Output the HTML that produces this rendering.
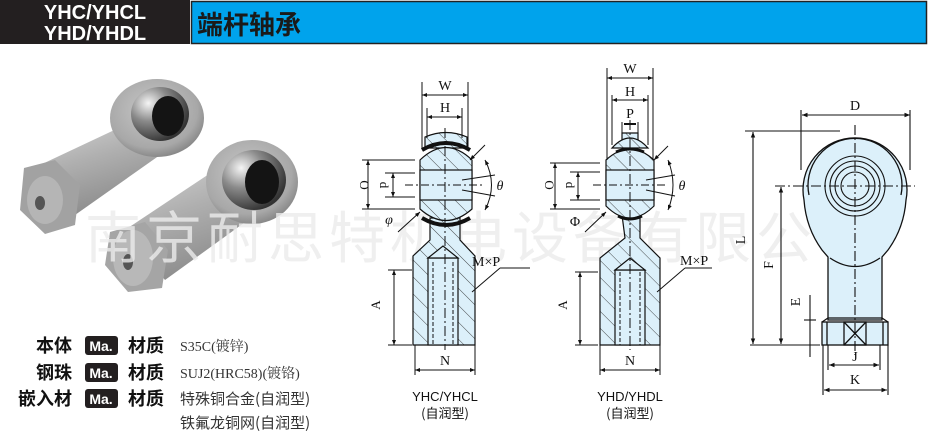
<!DOCTYPE html>
<html><head><meta charset="utf-8"><style>
html,body{margin:0;padding:0;background:#fff;}
svg{display:block;}
</style></head><body>
<svg width="929" height="440" viewBox="0 0 929 440" xmlns="http://www.w3.org/2000/svg" font-family="Liberation Serif, serif">
<defs>
<pattern id="h" width="12" height="12" patternUnits="userSpaceOnUse" patternTransform="rotate(-45)">
<rect width="12" height="12" fill="#dcf0fa"/><line x1="0" y1="0" x2="0" y2="12" stroke="#222" stroke-width="0.8"/></pattern>
<linearGradient id="met" x1="0" y1="0" x2="0.4" y2="1"><stop offset="0" stop-color="#d2d2d2"/><stop offset="0.45" stop-color="#b0b0b0"/><stop offset="1" stop-color="#8c8c8c"/></linearGradient>
<radialGradient id="eye" cx="45%" cy="40%" r="60%"><stop offset="0" stop-color="#c8c8c8"/><stop offset="0.8" stop-color="#a8a8a8"/><stop offset="1" stop-color="#8a8a8a"/></radialGradient>
<radialGradient id="ball" cx="30%" cy="30%" r="75%"><stop offset="0" stop-color="#f5f5f5"/><stop offset="0.45" stop-color="#8a8a8a"/><stop offset="1" stop-color="#333"/></radialGradient>
<marker id="a" viewBox="0 0 10 10" refX="10" refY="5" markerWidth="7" markerHeight="5" orient="auto-start-reverse"><path d="M0,1 L10,5 L0,9z" fill="#111"/></marker>
</defs>

<!-- header -->
<rect x="0" y="0" width="190" height="44" fill="#231f20"/>
<text x="95" y="19" fill="#fff" font-family="Liberation Sans, sans-serif" font-weight="bold" font-size="20" text-anchor="middle">YHC/YHCL</text>
<text x="95" y="40" fill="#fff" font-family="Liberation Sans, sans-serif" font-weight="bold" font-size="20" text-anchor="middle">YHD/YHDL</text>
<rect x="191.5" y="1.5" width="735" height="42" fill="#00a3ec" stroke="#222" stroke-width="1.5"/>
<text x="197" y="34" fill="#1a1a1a" font-family="Noto Sans CJK SC, sans-serif" font-weight="bold" font-size="26">端杆轴承</text>

<!-- photos -->
<g>
<path d="M40,165 L125,125 L160,155 L75,215 Z" fill="url(#met)"/>
<ellipse cx="157" cy="118" rx="47" ry="39" fill="url(#eye)"/>
<ellipse cx="160" cy="114" rx="29" ry="27" fill="url(#ball)"/>
<ellipse cx="168" cy="116" rx="16" ry="20" fill="#141414"/>
<path d="M24,168 L55,160 L80,185 L75,225 L45,234 L20,210 Z" fill="#a2a2a2"/>
<ellipse cx="45" cy="200" rx="18" ry="24" fill="#b5b5b5"/>
<ellipse cx="40" cy="203" rx="5" ry="7" fill="#555"/>
<path d="M125,230 L215,170 L255,215 L165,280 Z" fill="url(#met)"/>
<ellipse cx="252" cy="182" rx="46" ry="42" fill="url(#eye)"/>
<ellipse cx="254" cy="180" rx="32" ry="30" fill="url(#ball)"/>
<ellipse cx="262" cy="182" rx="17" ry="22" fill="#141414"/>
<path d="M110,232 L145,222 L168,250 L162,288 L128,292 L105,265 Z" fill="#a5a5a5"/>
<ellipse cx="133" cy="258" rx="20" ry="28" fill="#b8b8b8"/>
<ellipse cx="128" cy="262" rx="5" ry="8" fill="#555"/>
</g>

<!-- watermark -->
<text x="85" y="258" fill="#ececec" font-family="Noto Sans CJK SC, sans-serif" font-size="56" letter-spacing="5" opacity="0.8">南京耐思特机电设备有限公司</text>

<!-- YHC drawing -->
<g stroke="#111" stroke-width="1.2" fill="url(#h)">
<path d="M425,148 L425,137 Q446,128 467,137 L467,148 Z"/>
<path d="M430,218 L430,240 L413,256 L413,345 L475,345 L475,256 L460,240 L460,218 Z"/>
<path d="M420,160 Q446,135 472,160 L472,209 Q446,232 420,209 Z"/>
<rect x="420" y="170" width="52" height="30" fill="#dcf0fa"/>
<rect x="428" y="258" width="30" height="87" fill="#dcf0fa"/>
<path d="M428,258 L443,246 L458,258 Z" fill="#dcf0fa"/>
</g>
<path d="M422,150 Q446,136 470,150" stroke="#111" stroke-width="4" fill="none"/>
<path d="M422,218 Q446,232 470,218" stroke="#111" stroke-width="4" fill="none"/>
<g stroke="#111" stroke-width="1" stroke-dasharray="4,2" fill="none"><line x1="433" y1="262" x2="433" y2="345"/><line x1="453" y1="262" x2="453" y2="345"/></g>
<g stroke="#111" stroke-width="1" fill="none">
<line x1="445" y1="128" x2="445" y2="350" stroke-dasharray="10,3,2,3"/>
<line x1="405" y1="185" x2="485" y2="185" stroke-dasharray="8,3,2,3"/>
<line x1="422" y1="82" x2="422" y2="148"/><line x1="468" y1="82" x2="468" y2="148"/>
<line x1="427" y1="108" x2="427" y2="138"/><line x1="462" y1="108" x2="462" y2="138"/>
<line x1="422" y1="95" x2="468" y2="95" marker-start="url(#a)" marker-end="url(#a)"/>
<line x1="427" y1="117" x2="462" y2="117" marker-start="url(#a)" marker-end="url(#a)"/>
<line x1="362" y1="160" x2="415" y2="160"/><line x1="362" y1="209" x2="415" y2="209"/>
<line x1="385" y1="173" x2="415" y2="173"/><line x1="385" y1="197" x2="415" y2="197"/>
<line x1="368" y1="160" x2="368" y2="209" marker-start="url(#a)" marker-end="url(#a)"/>
<line x1="393" y1="173" x2="393" y2="197" marker-start="url(#a)" marker-end="url(#a)"/>
<path d="M485,160 Q498,185 485,210" marker-start="url(#a)" marker-end="url(#a)"/>
<line x1="462" y1="180" x2="495" y2="175"/><line x1="462" y1="190" x2="495" y2="196"/>
<line x1="470" y1="160" x2="485" y2="145" marker-start="url(#a)"/>
<line x1="420" y1="212" x2="398" y2="232" marker-start="url(#a)"/>
<line x1="388" y1="270" x2="412" y2="270"/><line x1="388" y1="345" x2="412" y2="345"/>
<line x1="394" y1="270" x2="394" y2="345" marker-start="url(#a)" marker-end="url(#a)"/>
<line x1="415" y1="345" x2="415" y2="375"/><line x1="475" y1="345" x2="475" y2="375"/>
<line x1="415" y1="370" x2="475" y2="370" marker-start="url(#a)" marker-end="url(#a)"/>
<line x1="472" y1="292" x2="500" y2="268"/><line x1="500" y1="268" x2="530" y2="268"/>
</g>
<g font-size="14" fill="#111" text-anchor="middle">
<text x="445" y="90">W</text><text x="445" y="112">H</text>
<text x="500" y="190" font-style="italic">θ</text>
<text x="389" y="224" font-style="italic">φ</text>
<text x="472" y="266" text-anchor="start">M×P</text>
<text x="445" y="365">N</text>
<text transform="translate(360,185) rotate(90)" font-size="13">O</text>
<text transform="translate(380,185) rotate(90)" font-size="13">d</text>
<text transform="translate(380,305) rotate(-90)" font-size="13">A</text>
</g>
<text x="445" y="401" font-family="Liberation Sans, sans-serif" font-size="13" text-anchor="middle" fill="#111">YHC/YHCL</text>
<text x="445" y="418" font-family="Noto Sans CJK SC, sans-serif" font-size="13" text-anchor="middle" fill="#111">(自润型)</text>

<!-- YHD drawing -->
<g stroke="#111" stroke-width="1.2" fill="url(#h)">
<path d="M622,147 L622,133 L638,133 L638,147 Z"/>
<path d="M612,148 Q630,128 648,148 Z"/>
<path d="M622,215 L625,238 L600,258 L600,345 L660,345 L660,258 L640,238 L640,215 Z"/>
<path d="M606,160 Q630,138 654,160 L654,206 Q630,230 606,206 Z"/>
<rect x="606" y="170" width="48" height="30" fill="#dcf0fa"/>
<rect x="615" y="270" width="30" height="75" fill="#dcf0fa"/>
<path d="M615,270 L630,258 L645,270 Z" fill="#dcf0fa"/>
</g>
<path d="M616,152 Q630,146 644,152" stroke="#111" stroke-width="3" fill="none"/>
<path d="M618,216 Q630,222 642,216" stroke="#111" stroke-width="3" fill="none"/>
<g stroke="#111" stroke-width="1" stroke-dasharray="4,2" fill="none"><line x1="620" y1="272" x2="620" y2="345"/><line x1="640" y1="272" x2="640" y2="345"/></g>
<g stroke="#111" stroke-width="1" fill="none">
<line x1="630" y1="120" x2="630" y2="350" stroke-dasharray="10,3,2,3"/>
<line x1="593" y1="185" x2="665" y2="185" stroke-dasharray="8,3,2,3"/>
<line x1="607" y1="68" x2="607" y2="160"/><line x1="653" y1="68" x2="653" y2="160"/>
<line x1="612" y1="95" x2="612" y2="145"/><line x1="648" y1="95" x2="648" y2="145"/>
<line x1="607" y1="78" x2="653" y2="78" marker-start="url(#a)" marker-end="url(#a)"/>
<line x1="612" y1="100" x2="648" y2="100" marker-start="url(#a)" marker-end="url(#a)"/>
<line x1="622" y1="122" x2="622" y2="133"/><line x1="638" y1="122" x2="638" y2="133"/>
<line x1="624" y1="124" x2="636" y2="124" stroke-width="2"/>
<line x1="550" y1="163" x2="600" y2="163"/><line x1="550" y1="209" x2="600" y2="209"/>
<line x1="570" y1="172" x2="600" y2="172"/><line x1="570" y1="200" x2="600" y2="200"/>
<line x1="555" y1="163" x2="555" y2="209" marker-start="url(#a)" marker-end="url(#a)"/>
<line x1="578" y1="172" x2="578" y2="200" marker-start="url(#a)" marker-end="url(#a)"/>
<path d="M668,160 Q678,185 668,210" marker-start="url(#a)" marker-end="url(#a)"/>
<line x1="646" y1="180" x2="675" y2="175"/><line x1="646" y1="190" x2="675" y2="196"/>
<line x1="654" y1="160" x2="668" y2="146" marker-start="url(#a)"/>
<line x1="606" y1="212" x2="585" y2="232" marker-start="url(#a)"/>
<line x1="575" y1="272" x2="598" y2="272"/><line x1="575" y1="345" x2="598" y2="345"/>
<line x1="580" y1="272" x2="580" y2="345" marker-start="url(#a)" marker-end="url(#a)"/>
<line x1="600" y1="345" x2="600" y2="375"/><line x1="660" y1="345" x2="660" y2="375"/>
<line x1="600" y1="370" x2="660" y2="370" marker-start="url(#a)" marker-end="url(#a)"/>
<line x1="657" y1="292" x2="685" y2="268"/><line x1="685" y1="268" x2="712" y2="268"/>
</g>
<g font-size="14" fill="#111" text-anchor="middle">
<text x="630" y="73">W</text><text x="630" y="96">H</text><text x="630" y="118">P</text>
<text x="682" y="190" font-style="italic">θ</text>
<text x="575" y="226">Φ</text>
<text x="680" y="265" text-anchor="start">M×P</text>
<text x="630" y="365">N</text>
<text transform="translate(545,185) rotate(90)" font-size="13">O</text>
<text transform="translate(566,185) rotate(90)" font-size="13">d</text>
<text transform="translate(567,305) rotate(-90)" font-size="13">A</text>
</g>
<text x="630" y="401" font-family="Liberation Sans, sans-serif" font-size="13" text-anchor="middle" fill="#111">YHD/YHDL</text>
<text x="630" y="418" font-family="Noto Sans CJK SC, sans-serif" font-size="13" text-anchor="middle" fill="#111">(自润型)</text>

<!-- right drawing -->
<g stroke="#111" stroke-width="1.3" fill="#dcf0fa">
<path d="M828,320 L828,257 L822,250 Q806,228 804,200 A52,52 0 1 1 906,200 Q904,228 888,250 L882,257 L882,320 Z"/>
<path d="M830,258 Q855,275 880,258" fill="none"/>
<path d="M809,195 A47,47 0 1 1 901,195" fill="none"/>
<rect x="822" y="322" width="66" height="23"/>
<path d="M822,322 L828,318 L882,318 L888,322" fill="none"/>
<rect x="844" y="322" width="22" height="23" fill="none"/>
<line x1="844" y1="322" x2="866" y2="345"/><line x1="866" y1="322" x2="844" y2="345"/>
<line x1="827" y1="322" x2="827" y2="345"/><line x1="883" y1="322" x2="883" y2="345"/>
</g>
<g stroke="#111" stroke-width="1.1" fill="none">
<circle cx="855" cy="186" r="30"/><circle cx="855" cy="186" r="25"/><circle cx="855" cy="186" r="20"/><circle cx="855" cy="186" r="14"/>
<line x1="855" y1="125" x2="855" y2="355" stroke-dasharray="10,3,2,3"/>
<line x1="775" y1="186" x2="915" y2="186" stroke-dasharray="10,3,2,3"/>
<line x1="801" y1="110" x2="801" y2="170"/><line x1="910" y1="110" x2="910" y2="170"/>
<line x1="802" y1="115" x2="910" y2="115" marker-start="url(#a)" marker-end="url(#a)"/>
<line x1="745" y1="131" x2="840" y2="131"/>
<line x1="750" y1="345" x2="820" y2="345"/>
<line x1="753" y1="132" x2="753" y2="344" marker-start="url(#a)" marker-end="url(#a)"/>
<line x1="781" y1="187" x2="781" y2="344" marker-start="url(#a)" marker-end="url(#a)"/>
<line x1="810" y1="295" x2="810" y2="357"/>
<line x1="804" y1="320" x2="816" y2="320"/>
<line x1="823" y1="345" x2="823" y2="395"/><line x1="888" y1="345" x2="888" y2="395"/>
<line x1="828" y1="345" x2="828" y2="370"/><line x1="880" y1="345" x2="880" y2="370"/>
<line x1="829" y1="365" x2="879" y2="365" marker-start="url(#a)" marker-end="url(#a)"/>
<line x1="824" y1="390" x2="887" y2="390" marker-start="url(#a)" marker-end="url(#a)"/>
</g>
<g font-size="14" fill="#111" text-anchor="middle">
<text x="855" y="110">D</text><text x="855" y="361">J</text><text x="855" y="384">K</text>
<text transform="translate(745,240) rotate(-90)">L</text>
<text transform="translate(773,265) rotate(-90)">F</text>
<text transform="translate(800,302) rotate(-90)">E</text>
</g>

<!-- material table -->
<g font-family="Noto Sans CJK SC, sans-serif" fill="#111" font-weight="bold">
<text x="72" y="352" font-size="18" text-anchor="end">本体</text>
<text x="72" y="379" font-size="18" text-anchor="end">钢珠</text>
<text x="72" y="405" font-size="18" text-anchor="end">嵌入材</text>
<text x="128" y="352" font-size="18">材质</text>
<text x="128" y="379" font-size="18">材质</text>
<text x="128" y="405" font-size="18">材质</text>
</g>
<g>
<rect x="85" y="336" width="33" height="19" rx="3" fill="#231f20"/>
<rect x="85" y="363" width="33" height="19" rx="3" fill="#231f20"/>
<rect x="85" y="389" width="33" height="19" rx="3" fill="#231f20"/>
<g font-family="Liberation Sans, sans-serif" font-weight="bold" font-size="14" fill="#fff" text-anchor="middle">
<text x="101" y="351">Ma.</text><text x="101" y="378">Ma.</text><text x="101" y="404">Ma.</text></g>
</g>
<g font-family="Liberation Serif, Noto Serif CJK SC, serif" font-size="14" fill="#333">
<text x="180" y="351">S35C(镀锌)</text>
<text x="180" y="378">SUJ2(HRC58)(镀铬)</text>
<text x="180" y="404" font-family="Noto Sans CJK SC, sans-serif" font-size="15">特殊铜合金(自润型)</text>
<text x="180" y="428" font-family="Noto Sans CJK SC, sans-serif" font-size="15">铁氟龙铜网(自润型)</text>
</g>
</svg>
</body></html>
